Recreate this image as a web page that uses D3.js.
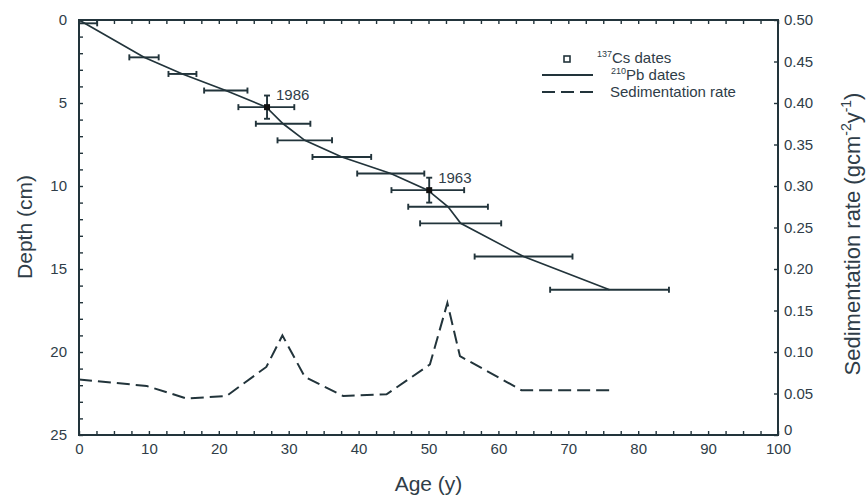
<!DOCTYPE html>
<html>
<head>
<meta charset="utf-8">
<script src="https://cdn.jsdelivr.net/npm/d3@7"></script>
<style>
  html, body { margin: 0; padding: 0; background: #fff; }
  svg { display: block; font-family: "Liberation Sans", Arial, sans-serif; }
</style>
</head>
<body>
<svg id="chart" width="866" height="501"></svg>
<script>
// ---- data ----
// 210Pb dates: depth (cm), age (y), age uncertainty (y)
const pbDepth = [0.2, 2.25, 3.25, 4.25, 5.25, 6.25, 7.25, 8.25, 9.25, 10.25, 11.25, 12.25, 14.25, 16.25];
const pbAge   = [1.3, 9.3, 14.8, 21.0, 26.8, 29.2, 32.3, 37.6, 44.6, 49.9, 52.8, 54.6, 63.6, 75.9];
const pbErr   = [1.3, 2.1, 2.0, 3.1, 4.0, 3.9, 3.9, 4.2, 4.8, 5.2, 5.7, 5.8, 7.0, 8.5];
// age-depth model line (surface point then Pb dates)
const modelAge   = [0, 9.3, 14.8, 21.0, 26.8, 29.2, 32.3, 37.6, 44.6, 49.9, 52.8, 54.6, 63.6, 75.9];
const modelDepth = [0, 2.25, 3.25, 4.25, 5.25, 6.25, 7.25, 8.25, 9.25, 10.25, 11.25, 12.25, 14.25, 16.25];
// 137Cs markers
const csAge    = [26.9, 50.1];
const csDepth  = [5.25, 10.25];
const csErr    = [0.7, 0.75];
const csLabel  = ["1986", "1963"];
// Sedimentation rate (g cm-2 y-1) vs age
const sedAge  = [0, 9.7, 15.4, 21.1, 26.8, 29.1, 32.3, 37.8, 44.0, 50.2, 52.7, 54.5, 63.3, 76.0];
const sedRate = [0.067, 0.059, 0.044, 0.047, 0.082, 0.120, 0.070, 0.047, 0.049, 0.085, 0.159, 0.095, 0.054, 0.054];
// ticks
const ageTicks   = [0, 10, 20, 30, 40, 50, 60, 70, 80, 90, 100];
const depthTicks = [0, 5, 10, 15, 20, 25];
const rateTicks  = [0, 0.05, 0.10, 0.15, 0.20, 0.25, 0.30, 0.35, 0.40, 0.45, 0.50];

// ---- layout ----
const W = 866, H = 501;
const m = { left: 79, right: 88, top: 20, bottom: 66 };
const x0 = m.left, x1 = W - m.right, y0 = m.top, y1 = H - m.bottom;
const ink = "#22343b";
const txt = "#2f3d48";

const svg = d3.select("#chart");
const x = d3.scaleLinear().domain([0, 100]).range([x0, x1]);
const yD = d3.scaleLinear().domain([0, 25]).range([y0, y1]);
const yR = d3.scaleLinear().domain([0, 0.5]).range([y1, y0]);

// ---- axes ----
const tickLen = 4;
function styleAxis(g) {
  g.selectAll(".domain").remove();
  g.selectAll(".tick line").attr("stroke", ink).attr("stroke-width", 1.4);
  g.selectAll(".tick text").attr("fill", txt).attr("font-size", 15)
    .attr("font-family", '"Liberation Sans", Arial, sans-serif');
}
// bottom: minor ticks every 2.5, labels every 10
svg.append("g").attr("transform", `translate(0,${y1})`)
  .call(d3.axisBottom(x).tickValues(d3.range(0, 100.01, 2.5)).tickSize(-tickLen).tickFormat(() => ""))
  .call(styleAxis);
svg.append("g").attr("transform", `translate(0,${y1})`)
  .call(d3.axisBottom(x).tickValues(ageTicks).tickSize(0).tickPadding(8).tickFormat(d3.format("d")))
  .call(styleAxis);
// top
svg.append("g").attr("transform", `translate(0,${y0})`)
  .call(d3.axisTop(x).tickValues(d3.range(0, 100.01, 2.5)).tickSize(-tickLen).tickFormat(() => ""))
  .call(styleAxis);
// left
svg.append("g").attr("transform", `translate(${x0},0)`)
  .call(d3.axisLeft(yD).tickValues(d3.range(0, 25.01, 1)).tickSize(-tickLen).tickFormat(() => ""))
  .call(styleAxis);
svg.append("g").attr("transform", `translate(${x0},0)`)
  .call(d3.axisLeft(yD).tickValues(depthTicks).tickSize(0).tickPadding(12).tickFormat(d3.format("d")))
  .call(styleAxis);
// right
svg.append("g").attr("transform", `translate(${x1},0)`)
  .call(d3.axisRight(yR).tickValues(rateTicks).tickSize(-tickLen).tickFormat(() => ""))
  .call(styleAxis);
const rightLabels = svg.append("g").attr("transform", `translate(${x1},0)`)
  .call(d3.axisRight(yR).tickValues(rateTicks).tickSize(0).tickPadding(6)
    .tickFormat(d => d === 0 ? "0" : d3.format(".2f")(d)))
  .call(styleAxis);
// nudge the "0" label up so it clears the "100" label below it
rightLabels.selectAll(".tick").filter(d => d === 0).select("text").attr("dy", "-0.05em");

// frame
svg.append("rect").attr("x", x0).attr("y", y0).attr("width", x1 - x0).attr("height", y1 - y0)
  .attr("fill", "none").attr("stroke", ink).attr("stroke-width", 2);

// ---- axis titles ----
svg.append("text").attr("x", (x0 + x1) / 2).attr("y", 491).attr("text-anchor", "middle")
  .attr("font-size", 21).attr("fill", txt).text("Age (y)");
svg.append("text").attr("transform", `translate(32,227) rotate(-90)`).attr("text-anchor", "middle")
  .attr("font-size", 21).attr("fill", txt).text("Depth (cm)");
const rt = svg.append("text").attr("transform", `translate(860,234) rotate(-90)`).attr("text-anchor", "middle")
  .attr("font-size", 22).attr("fill", txt);
rt.append("tspan").text("Sedimentation rate (gcm");
rt.append("tspan").attr("font-size", 14).attr("dy", -9).text("-2");
rt.append("tspan").attr("dy", 9).text("y");
rt.append("tspan").attr("font-size", 14).attr("dy", -9).text("-1");
rt.append("tspan").attr("dy", 9).text(")");

// ---- plot content ----
const plot = svg.append("g");

// sedimentation rate (dashed)
const sedData = sedAge.map((a, i) => ({ a, r: sedRate[i] }));
plot.append("path").datum(sedData)
  .attr("fill", "none").attr("stroke", ink).attr("stroke-width", 2)
  .attr("stroke-dasharray", "13,6")
  .attr("d", d3.line().x(d => x(d.a)).y(d => yR(d.r)));

// age-depth model line
const modelData = modelAge.map((a, i) => ({ a, d: modelDepth[i] }));
plot.append("path").datum(modelData)
  .attr("fill", "none").attr("stroke", ink).attr("stroke-width", 1.7)
  .attr("d", d3.line().x(d => x(d.a)).y(d => yD(d.d)));

// Pb horizontal error bars
const pbData = pbAge.map((a, i) => ({ a, d: pbDepth[i], e: pbErr[i] }));
const cap = 3;
const pbG = plot.append("g").attr("stroke", ink).attr("stroke-width", 1.9);
pbG.selectAll("line.h").data(pbData).join("line")
  .attr("x1", d => x(d.a - d.e)).attr("x2", d => x(d.a + d.e))
  .attr("y1", d => yD(d.d)).attr("y2", d => yD(d.d));
pbG.selectAll("line.cl").data(pbData).join("line")
  .attr("x1", d => x(d.a - d.e)).attr("x2", d => x(d.a - d.e))
  .attr("y1", d => yD(d.d) - cap).attr("y2", d => yD(d.d) + cap);
pbG.selectAll("line.cr").data(pbData).join("line")
  .attr("x1", d => x(d.a + d.e)).attr("x2", d => x(d.a + d.e))
  .attr("y1", d => yD(d.d) - cap).attr("y2", d => yD(d.d) + cap);

// Cs markers with vertical error bars
const csData = csAge.map((a, i) => ({ a, d: csDepth[i], e: csErr[i], l: csLabel[i] }));
const csG = plot.append("g");
csG.selectAll("line.v").data(csData).join("line")
  .attr("stroke", ink).attr("stroke-width", 1.9)
  .attr("x1", d => x(d.a)).attr("x2", d => x(d.a))
  .attr("y1", d => yD(d.d - d.e)).attr("y2", d => yD(d.d + d.e));
csG.selectAll("line.t").data(csData).join("line")
  .attr("stroke", ink).attr("stroke-width", 1.9)
  .attr("x1", d => x(d.a) - cap).attr("x2", d => x(d.a) + cap)
  .attr("y1", d => yD(d.d - d.e)).attr("y2", d => yD(d.d - d.e));
csG.selectAll("line.b").data(csData).join("line")
  .attr("stroke", ink).attr("stroke-width", 1.9)
  .attr("x1", d => x(d.a) - cap).attr("x2", d => x(d.a) + cap)
  .attr("y1", d => yD(d.d + d.e)).attr("y2", d => yD(d.d + d.e));
csG.selectAll("rect").data(csData).join("rect")
  .attr("x", d => x(d.a) - 3).attr("y", d => yD(d.d) - 3)
  .attr("width", 6).attr("height", 6).attr("fill", "#111");
csG.selectAll("text").data(csData).join("text")
  .attr("x", d => x(d.a) + 9).attr("y", d => yD(d.d) - 7)
  .attr("font-size", 15).attr("fill", txt).text(d => d.l);

// ---- legend ----
const lg = svg.append("g");
lg.append("rect").attr("x", 564).attr("y", 56).attr("width", 6).attr("height", 6)
  .attr("fill", "#fff").attr("stroke", ink).attr("stroke-width", 1.6);
lg.append("line").attr("x1", 542).attr("x2", 593).attr("y1", 75).attr("y2", 75)
  .attr("stroke", ink).attr("stroke-width", 1.9);
lg.append("line").attr("x1", 542).attr("x2", 593).attr("y1", 92).attr("y2", 92)
  .attr("stroke", ink).attr("stroke-width", 2).attr("stroke-dasharray", "13,6");
const t1 = lg.append("text").attr("x", 597).attr("y", 63).attr("font-size", 15).attr("fill", txt);
t1.append("tspan").attr("font-size", 9).attr("dy", -6).text("137");
t1.append("tspan").attr("dy", 6).text("Cs dates");
const t2 = lg.append("text").attr("x", 611).attr("y", 80).attr("font-size", 15).attr("fill", txt);
t2.append("tspan").attr("font-size", 9).attr("dy", -6).text("210");
t2.append("tspan").attr("dy", 6).text("Pb dates");
lg.append("text").attr("x", 610).attr("y", 97).attr("font-size", 15).attr("fill", txt).text("Sedimentation rate");
</script>
</body>
</html>
